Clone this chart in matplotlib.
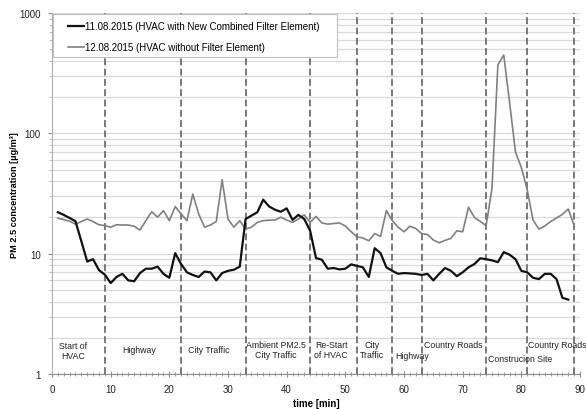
import matplotlib
matplotlib.use("Agg")
import matplotlib.pyplot as plt
from matplotlib.patches import Rectangle
from matplotlib.ticker import LogLocator, MultipleLocator, NullFormatter
import numpy as np

plt.rcParams['font.family'] = ['Liberation Sans', 'DejaVu Sans']

# ---- data ----
time_black = list(range(1, 89))
pm_black = [22.1, 21.0, 19.8, 18.6, 12.7, 8.6, 9.0, 7.3, 6.7, 5.7,
            6.4, 6.8, 6.0, 5.9, 6.9, 7.5, 7.5, 7.8, 6.8, 6.3,
            10.1, 8.2, 7.0, 6.65, 6.4, 7.1, 7.0, 6.0, 6.9, 7.2,
            7.35, 7.8, 19.4, 20.7, 22.1, 28.1, 24.7, 23.2, 22.3, 23.8,
            19.1, 21.0, 19.4, 15.5, 9.2, 8.9, 7.5, 7.6, 7.4, 7.5,
            8.15, 7.9, 7.7, 6.4, 11.1, 10.1, 7.7, 7.2, 6.8, 6.9,
            6.85, 6.8, 6.65, 6.8, 6.0, 6.8, 7.6, 7.2, 6.5, 7.0,
            7.7, 8.2, 9.15, 9.0, 8.8, 8.5, 10.3, 9.8, 9.0, 7.2,
            7.0, 6.3, 6.15, 6.8, 6.8, 6.15, 4.3, 4.15]

time_grey = list(range(1, 90))
pm_grey = [19.7, 19.2, 18.6, 17.6, 18.5, 19.4, 18.5, 17.4, 17.1, 16.6,
           17.4, 17.3, 17.3, 16.9, 15.7, 18.8, 22.3, 20.1, 22.8, 18.8,
           24.6, 21.4, 18.8, 31.3, 21.4, 16.6, 17.3, 18.5, 41.2, 19.4,
           16.6, 18.8, 16.0, 16.6, 18.2, 18.8, 19.0, 19.0, 20.1, 19.0,
           18.2, 19.4, 21.0, 18.2, 20.4, 18.0, 17.6, 17.8, 18.0, 17.0,
           15.2, 13.8, 13.5, 12.8, 14.7, 13.9, 22.8, 18.8, 16.6, 15.2,
           16.9, 16.2, 14.7, 14.4, 13.0, 12.3, 12.9, 13.4, 15.5, 15.2,
           24.3, 20.0, 18.5, 17.1, 35.0, 370.0, 448.0, 180.0, 70.0, 52.0,
           34.0, 19.0, 16.0, 17.0, 18.5, 19.8, 21.2, 23.5, 17.1]

label_black = "11.08.2015 (HVAC with New Combined Filter Element)"
label_grey = "12.08.2015 (HVAC without Filter Element)"

phase_bounds = [9, 22, 33, 44, 52, 58, 63, 74, 81, 89]
phase_labels = ["Start of\nHVAC", "Highway", "City Traffic", "Ambient PM2.5\nCity Traffic",
                "Re-Start\nof HVAC", "City\nTraffic", "Highway", "Country Roads",
                "Construcion Site", "Country Roads"]
phase_label_x = [3.55, 14.85, 26.8, 38.1, 47.6, 54.6, 61.4, 68.45, 79.8, 86.2]
phase_label_y = [0.066, 0.068, 0.068, 0.068, 0.069, 0.069, 0.050, 0.081, 0.043, 0.081]

# ---- figure ----
fig = plt.figure(figsize=(5.86, 4.10), dpi=100)
ax = fig.add_axes([52/586, 1-375/410, 528/586, 361/410])

ax.set_yscale('log')
ax.set_ylim(1, 1000)
ax.set_xlim(0, 90)

ax.yaxis.set_minor_locator(LogLocator(base=10, subs=np.arange(2, 10), numticks=20))
ax.yaxis.set_minor_formatter(NullFormatter())
ax.set_yticks([1, 10, 100, 1000])
ax.set_yticklabels(["1", "10", "100", "1000"])
ax.xaxis.set_major_locator(MultipleLocator(10))
ax.xaxis.set_minor_locator(MultipleLocator(1))

ax.grid(True, which='both', axis='y', color='#d9d9d9', lw=0.9, zorder=0)
ax.set_axisbelow(True)

for b in phase_bounds:
    ax.axvline(b, color='#6e6e6e', lw=1.3, dashes=(3.8, 1.9), zorder=1)

ax.plot(time_black, pm_black, color='#111111', lw=1.6, zorder=4, label=label_black)
ax.plot(time_grey, pm_grey, color='#808080', lw=1.2, zorder=3, label=label_grey)

for txt, x, y in zip(phase_labels, phase_label_x, phase_label_y):
    ax.text(x, y, txt, transform=ax.get_xaxis_transform(), ha='center', va='center',
            fontsize=6.3, color='#222222', clip_on=False, zorder=6, linespacing=1.15)

for s in ['top', 'right']:
    ax.spines[s].set_visible(False)
ax.spines['left'].set_color('#b0b0b0')
ax.spines['bottom'].set_color('#8c8c8c')

ax.tick_params(axis='both', which='major', labelsize=7, colors='#8c8c8c', labelcolor='#222222')
ax.tick_params(axis='y', which='major', length=3, pad=5)
ax.tick_params(axis='y', which='minor', length=2, color='#b0b0b0')
ax.tick_params(axis='x', which='major', length=4, direction='inout', pad=5)
ax.tick_params(axis='x', which='minor', length=3, direction='inout', color='#8c8c8c')

ax.set_xlabel("time [min]", fontsize=7, fontweight='bold', labelpad=3)
fig.text(14.5/586, 1-195/410, "PM 2.5 concentration [µg/m³]", rotation=90,
         ha='center', va='center', fontsize=6.6, fontweight='bold')

# legend box
rect = Rectangle((1/528, (375-58)/361), 284/528, 43/361, transform=ax.transAxes,
                 facecolor='white', edgecolor='#bfbfbf', lw=0.8, zorder=5, clip_on=False)
ax.add_patch(rect)
leg = ax.legend(loc='upper left', bbox_to_anchor=(13/528, (375-19)/361), frameon=False,
                fontsize=7, handlelength=1.7, handletextpad=0.1, labelspacing=1.15,
                borderaxespad=0, borderpad=0.3)
leg.set_zorder(6)

fig.savefig("out.png", dpi=100)
